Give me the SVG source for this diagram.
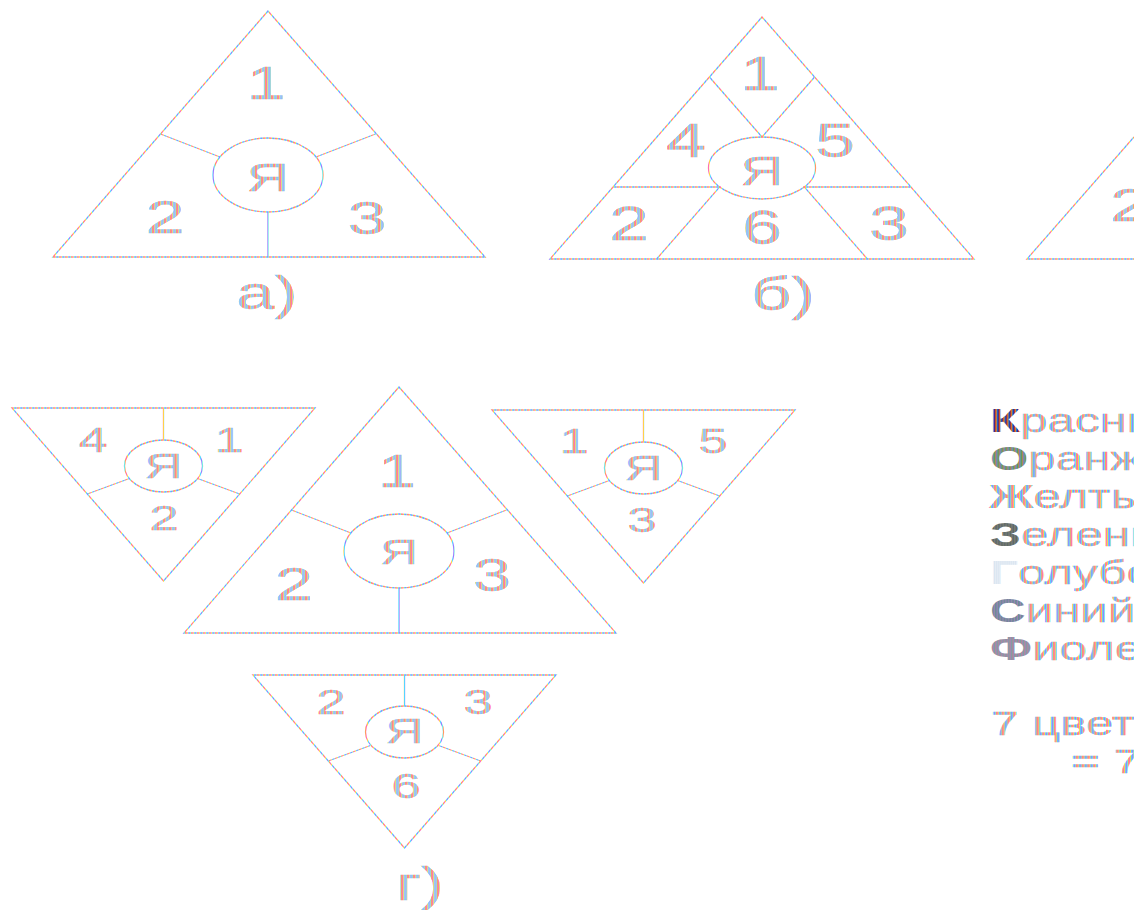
<svg xmlns="http://www.w3.org/2000/svg" width="1134" height="910" viewBox="0 0 1134 910">
<defs>
<pattern id="rb" width="6" height="10" patternUnits="userSpaceOnUse">
<rect x="0" width="1" height="10" fill="#ff6fb4"/><rect x="1" width="1" height="10" fill="#ffd04a"/><rect x="2" width="1" height="10" fill="#55d4ff"/><rect x="3" width="1" height="10" fill="#9a7cff"/><rect x="4" width="1" height="10" fill="#70e6e0"/><rect x="5" width="1" height="10" fill="#ff9860"/>
</pattern>
<pattern id="rbt" width="6" height="10" patternUnits="userSpaceOnUse" patternTransform="scale(0.6667,1)">
<rect x="0" width="1" height="10" fill="#ff6fb4"/><rect x="1" width="1" height="10" fill="#ffd04a"/><rect x="2" width="1" height="10" fill="#55d4ff"/><rect x="3" width="1" height="10" fill="#9a7cff"/><rect x="4" width="1" height="10" fill="#70e6e0"/><rect x="5" width="1" height="10" fill="#ff9860"/>
</pattern>
<pattern id="pk" width="4" height="10" patternUnits="userSpaceOnUse" patternTransform="scale(0.6667,1)">
<rect x="0" width="1" height="10" fill="#2a2a9a"/><rect x="1" width="1" height="10" fill="#c0392b"/><rect x="2" width="1" height="10" fill="#e08a2a"/><rect x="3" width="1" height="10" fill="#1f6fd0"/>
</pattern>
<pattern id="po" width="4" height="10" patternUnits="userSpaceOnUse" patternTransform="scale(0.6667,1)">
<rect x="0" width="1" height="10" fill="#5a9a60"/><rect x="1" width="1" height="10" fill="#b08a50"/><rect x="2" width="1" height="10" fill="#8a7ab8"/><rect x="3" width="1" height="10" fill="#6a9a9a"/>
</pattern>
<pattern id="pz" width="3" height="10" patternUnits="userSpaceOnUse" patternTransform="scale(0.6667,1)">
<rect x="0" width="1" height="10" fill="#5a6a60"/><rect x="1" width="1" height="10" fill="#7a8070"/><rect x="2" width="1" height="10" fill="#6a6a7a"/>
</pattern>
<pattern id="pg" width="2" height="10" patternUnits="userSpaceOnUse" patternTransform="scale(0.6667,1)">
<rect x="0" width="1" height="10" fill="#d8e4f0"/><rect x="1" width="1" height="10" fill="#e8eef5"/>
</pattern>
<pattern id="ps" width="3" height="10" patternUnits="userSpaceOnUse" patternTransform="scale(0.6667,1)">
<rect x="0" width="1" height="10" fill="#7a80a8"/><rect x="1" width="1" height="10" fill="#9a88b0"/><rect x="2" width="1" height="10" fill="#6a9090"/>
</pattern>
<pattern id="pf" width="3" height="10" patternUnits="userSpaceOnUse" patternTransform="scale(0.6667,1)">
<rect x="0" width="1" height="10" fill="#a088b8"/><rect x="1" width="1" height="10" fill="#7aa0a0"/><rect x="2" width="1" height="10" fill="#b08898"/>
</pattern>
<style>
.ln{fill:none;stroke:url(#rb);stroke-width:1.3}
.t{font-family:"Liberation Sans",Arial,sans-serif;fill:url(#rbt);stroke:url(#rbt);stroke-width:0.5;text-anchor:middle}
.s{text-anchor:start}
.big{font-size:47px}
.sm{font-size:35px}
.lg{font-size:34px}
.b{font-weight:bold;stroke:none}
</style>
</defs>
<rect width="1134" height="910" fill="#fff"/>

<g id="fig-a">
<polygon class="ln" points="268,11 53,257 485,257"/>
<ellipse class="ln" cx="268" cy="175" rx="55" ry="37"/>
<path class="ln" d="M160.5,134 L220,157 M375.5,134 L316,157 M268,212 L268,257"/>
<text class="t big" transform="translate(266,99) scale(1.5,1)">1</text>
<text class="t big" transform="translate(165,233) scale(1.5,1)">2</text>
<text class="t big" transform="translate(367,234) scale(1.5,1)">3</text>
<text class="t" font-size="39" transform="translate(268,191) scale(1.5,1)">Я</text>
<text class="t" font-size="46" transform="translate(267,309) scale(1.5,1)">а)</text>
</g>

<g id="fig-b">
<polygon class="ln" points="762,17 550,259 974,259"/>
<ellipse class="ln" cx="762" cy="168" rx="53.5" ry="31"/>
<path class="ln" d="M709.4,77 L762,137 L814.6,77 M613.1,187 L719.7,187 L656.6,259 M910.9,187 L804.3,187 L867.4,259"/>
<text class="t" font-size="48" transform="translate(760,90) scale(1.5,1)">1</text>
<text class="t" font-size="48" transform="translate(686,157) scale(1.5,1)">4</text>
<text class="t" font-size="48" transform="translate(835,157) scale(1.5,1)">5</text>
<text class="t" font-size="40" transform="translate(762,185) scale(1.5,1)">Я</text>
<text class="t" font-size="48" transform="translate(629,240) scale(1.5,1)">2</text>
<text class="t" font-size="48" transform="translate(762,244) scale(1.5,1)">6</text>
<text class="t" font-size="48" transform="translate(889,240) scale(1.5,1)">3</text>
<text class="t" font-size="47" transform="translate(783,310) scale(1.5,1)">б)</text>
</g>

<g id="fig-v">
<path class="ln" d="M1134,137 L1027,259 L1134,259"/>
<text class="t s big" transform="translate(1110,221) scale(1.5,1)">2</text>
</g>

<g id="fig-g-left">
<polygon class="ln" points="12,408 315,408 163.5,581"/>
<ellipse class="ln" cx="163.5" cy="466" rx="39" ry="26"/>
<path class="ln" d="M163.5,408 L163.5,440 M87.3,494 L129.4,478.5 M239.7,494 L197.6,478.5"/>
<text class="t sm" transform="translate(93,452) scale(1.5,1)">4</text>
<text class="t sm" transform="translate(229,452) scale(1.5,1)">1</text>
<text class="t sm" transform="translate(163.5,478) scale(1.5,1)">Я</text>
<text class="t sm" transform="translate(164,530) scale(1.5,1)">2</text>
</g>

<g id="fig-g-center">
<polygon class="ln" points="399,387 184,633 616,633"/>
<ellipse class="ln" cx="399" cy="551" rx="55" ry="37"/>
<path class="ln" d="M291.5,510 L351,533 M506.5,510 L447,533 M399,588 L399,633"/>
<text class="t" font-size="46" transform="translate(397,487) scale(1.5,1)">1</text>
<text class="t" font-size="46" transform="translate(294,600) scale(1.5,1)">2</text>
<text class="t" font-size="46" transform="translate(492,591) scale(1.5,1)">3</text>
<text class="t sm" transform="translate(399,564) scale(1.5,1)">Я</text>
</g>

<g id="fig-g-right">
<polygon class="ln" points="492,410 795,410 643.5,583"/>
<ellipse class="ln" cx="643.5" cy="468" rx="39" ry="26"/>
<path class="ln" d="M643.5,410 L643.5,442 M567.3,496 L609.4,480.5 M719.7,496 L677.6,480.5"/>
<text class="t sm" transform="translate(574,453) scale(1.5,1)">1</text>
<text class="t sm" transform="translate(713,453) scale(1.5,1)">5</text>
<text class="t sm" transform="translate(643.5,480) scale(1.5,1)">Я</text>
<text class="t sm" transform="translate(642,532) scale(1.5,1)">3</text>
</g>

<g id="fig-g-bottom">
<polygon class="ln" points="253,675 556,675 404.5,848"/>
<ellipse class="ln" cx="404.5" cy="732" rx="39" ry="26"/>
<path class="ln" d="M404.5,675 L404.5,706 M328.3,761 L370.4,745.5 M480.7,761 L438.6,745.5"/>
<text class="t sm" transform="translate(331,714) scale(1.5,1)">2</text>
<text class="t sm" transform="translate(478,714) scale(1.5,1)">3</text>
<text class="t sm" transform="translate(404.5,743) scale(1.5,1)">Я</text>
<text class="t sm" transform="translate(406,798) scale(1.5,1)">6</text>
<text class="t" font-size="46" transform="translate(420,900) scale(1.5,1)">г)</text>
</g>

<g id="legend">
<text class="t s lg" transform="translate(990,432) scale(1.45,1)"><tspan class="b" fill="url(#pk)">К</tspan>расный</text>
<text class="t s lg" transform="translate(990,470) scale(1.45,1)"><tspan class="b" fill="url(#po)">О</tspan>ранжевый</text>
<text class="t s lg" transform="translate(989,508) scale(1.45,1)"><tspan class="b">Ж</tspan>елтый</text>
<text class="t s lg" transform="translate(990,546) scale(1.45,1)"><tspan class="b" fill="url(#pz)">З</tspan>еленый</text>
<text class="t s lg" transform="translate(990,584) scale(1.45,1)"><tspan class="b" fill="url(#pg)">Г</tspan>олубой</text>
<text class="t s lg" transform="translate(990,622) scale(1.45,1)"><tspan class="b" fill="url(#ps)">С</tspan>иний</text>
<text class="t s lg" transform="translate(990,660) scale(1.45,1)"><tspan class="b" fill="url(#pf)">Ф</tspan>иолетовый</text>
<text class="t s lg" transform="translate(991,735) scale(1.45,1)">7 цветов</text>
<text class="t s lg" transform="translate(1071,773) scale(1.45,1)">= 7</text>
</g>
</svg>
